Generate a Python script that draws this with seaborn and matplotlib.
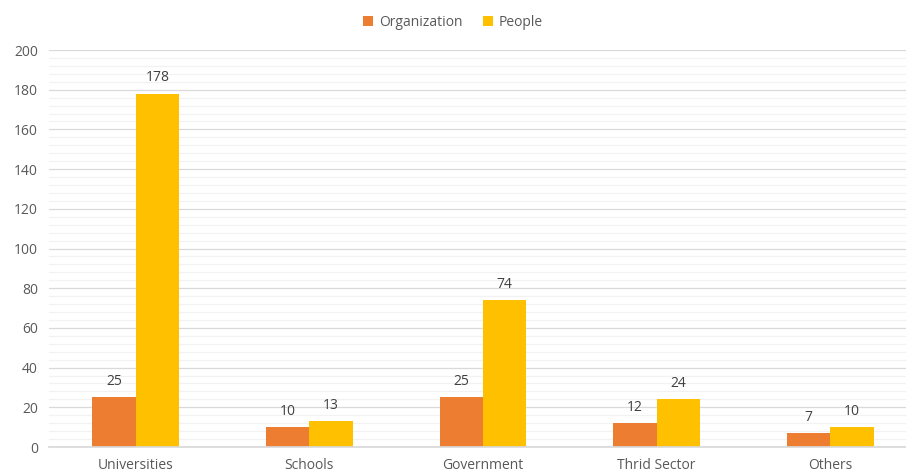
import matplotlib
matplotlib.use("Agg")
import matplotlib.pyplot as plt
import seaborn as sns
import pandas as pd
from matplotlib.ticker import MultipleLocator
from matplotlib.patches import Patch

categories = ["Universities", "Schools", "Government", "Thrid Sector", "Others"]
organization = [25, 10, 25, 12, 7]
people = [178, 13, 74, 24, 10]
series_names = ["Organization", "People"]
colors = ["#ED7D31", "#FFC000"]

df = pd.DataFrame({
    "category": categories * 2,
    "series": [series_names[0]] * len(categories) + [series_names[1]] * len(categories),
    "value": organization + people,
})

sns.set_theme(style="white")
plt.rcParams['font.family'] = ['Open Sans', 'DejaVu Sans']

W, H = 906, 473
fig = plt.figure(figsize=(W / 100, H / 100), dpi=100)
left_px, right_px, top_px, bottom_px = 49, 917, 50, 447
ax = fig.add_axes([left_px / W, 1 - bottom_px / H, (right_px - left_px) / W, (bottom_px - top_px) / H])

sns.barplot(data=df, x="category", y="value", hue="series", palette=colors,
            width=0.5, gap=0, ax=ax, legend=False, saturation=1, linewidth=0)

ax.set_ylim(0, 200)
ax.set_xlim(-0.5, len(categories) - 0.5)
ax.yaxis.set_major_locator(MultipleLocator(20))
ax.yaxis.set_minor_locator(MultipleLocator(4))
ax.grid(True, which="major", axis="y", color="#D9D9D9", linewidth=0.9)
ax.grid(True, which="minor", axis="y", color="#F2F2F2", linewidth=0.9)
ax.set_axisbelow(True)
for s in ["top", "right", "left"]:
    ax.spines[s].set_visible(False)
ax.spines["bottom"].set_color("#D9D9D9")
ax.set_xlabel("")
ax.set_ylabel("")
ax.tick_params(axis="both", which="both", length=0, labelsize=10, colors="#595959", pad=8)

for cont in ax.containers:
    ax.bar_label(cont, padding=6, fontsize=10, color="#404040")

handles = [Patch(facecolor=c, edgecolor="none") for c in colors]
fig.legend(handles, series_names, loc="upper center", bbox_to_anchor=(0.5, 0.995), ncol=2,
           frameon=False, fontsize=10, handlelength=0.7, handleheight=0.7,
           handletextpad=0.4, columnspacing=1.5, labelcolor="#595959")

fig.savefig("out.png", dpi=100)
